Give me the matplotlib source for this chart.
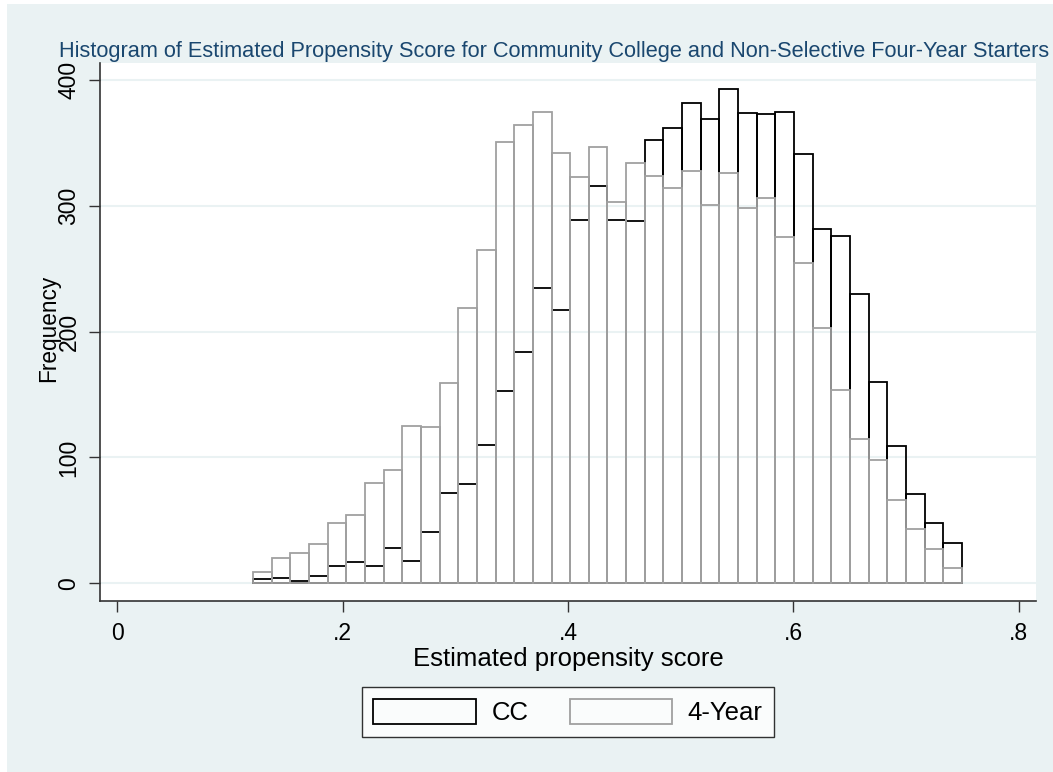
import numpy as np
import matplotlib
matplotlib.use('Agg')
import matplotlib.pyplot as plt
from matplotlib.patches import Rectangle

# histogram bins (38 equal-width bins)
BIN_START = 0.1205
BIN_WIDTH = 0.01655

cc_counts = [3, 4, 2, 6, 14, 17, 14, 28, 18, 41, 72, 79, 110, 153, 184, 235, 217,
             289, 316, 289, 288, 352, 362, 382, 369, 393, 374, 373, 375, 341, 282,
             276, 230, 160, 109, 71, 48, 32]
four_year_counts = [9, 20, 24, 31, 48, 54, 80, 90, 125, 124, 159, 219, 265, 351, 364,
                    375, 342, 323, 347, 303, 334, 324, 314, 328, 301, 326, 298, 306,
                    275, 255, 203, 154, 115, 98, 66, 43, 27, 12]

x_ticks = [0, 0.2, 0.4, 0.6, 0.8]
x_labels = ['0', '.2', '.4', '.6', '.8']
y_ticks = [0, 100, 200, 300, 400]

BG = '#eaf2f3'
TITLE_COLOR = '#1a476f'
GRAY = '#a0a0a0'
W, H = 1053, 772

plt.rcParams['font.family'] = ['Liberation Sans', 'DejaVu Sans']

fig = plt.figure(figsize=(W / 100, H / 100), dpi=100)
fig.patch.set_facecolor('white')
# Stata-style outer background, with a thin white strip on the left and top
fig.patches.append(Rectangle((7 / W, -0.02), 1.05, 1.02 - 4 / H, transform=fig.transFigure,
                             facecolor=BG, edgecolor='none', zorder=-10))

ax = fig.add_axes([100 / W, (H - 601) / H, 936 / W, 538 / H])
ax.set_facecolor('white')

edges = BIN_START + BIN_WIDTH * np.arange(len(cc_counts))
ax.bar(edges, cc_counts, width=BIN_WIDTH, align='edge', fill=False,
       edgecolor='black', linewidth=1.3, zorder=3, label='CC')
ax.bar(edges, four_year_counts, width=BIN_WIDTH, align='edge', fill=False,
       edgecolor=GRAY, linewidth=1.3, zorder=4, label='4-Year')

ax.set_xlim(-0.0154, 0.8152)
ax.set_ylim(-14.1, 413.6)
ax.set_xticks(x_ticks)
ax.set_xticklabels(x_labels)
ax.set_yticks(y_ticks)
ax.set_yticklabels([str(v) for v in y_ticks], rotation=90, va='center')
ax.tick_params(axis='both', length=8, width=1, color='#333333', labelsize=16.5)
ax.tick_params(axis='x', pad=7)
ax.tick_params(axis='y', pad=6)
ax.grid(axis='y', color=BG, linewidth=1.5, zorder=0)
ax.set_axisbelow(True)
for side in ['top', 'right']:
    ax.spines[side].set_visible(False)
for side in ['left', 'bottom']:
    ax.spines[side].set_color('#333333')
    ax.spines[side].set_linewidth(1.2)

fig.text(554 / W, 1 - 52 / H,
         'Histogram of Estimated Propensity Score for Community College and Non-Selective Four-Year Starters',
         ha='center', va='center', color=TITLE_COLOR, fontsize=15.7)
fig.text(49 / W, 1 - 328 / H, 'Frequency', rotation=90, ha='center', va='center',
         fontsize=16.3)
fig.text(568 / W, 1 - 659 / H, 'Estimated propensity score', ha='center', va='center',
         fontsize=18.5)

leg = ax.legend(loc='center', bbox_to_anchor=(568 / W, 1 - 712 / H), bbox_transform=fig.transFigure,
                ncol=2, frameon=True, fancybox=False, fontsize=18.5, handlelength=4.0,
                handleheight=1.1, columnspacing=1.6, handletextpad=0.6, borderpad=0.45,
                borderaxespad=0)
leg.get_frame().set_edgecolor('black')
leg.get_frame().set_linewidth(1.0)
leg.get_frame().set_facecolor('white')

fig.savefig('out.png', dpi=100, facecolor=fig.get_facecolor())
